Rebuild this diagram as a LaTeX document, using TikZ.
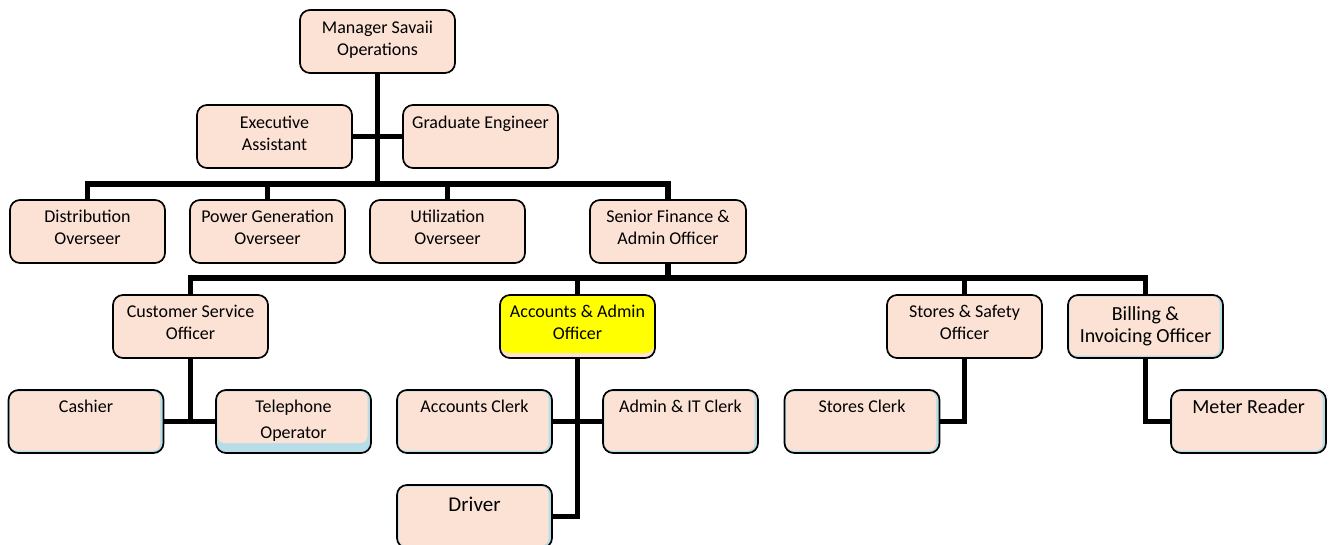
\documentclass[tikz,border=0pt]{standalone}
\usepackage{fontspec}
\setmainfont{Carlito}
\definecolor{peach}{RGB}{251,226,213}
\definecolor{paleblue}{RGB}{183,221,232}
\definecolor{hilite}{RGB}{255,255,0}
% top-aligned box text: #1 box height, #2 first-baseline offset, #3 text
\newcommand{\tb}[3]{\parbox[c][#1][t]{152pt}{\centering\rule{0pt}{#2}#3}}
\tikzset{
  box/.style={draw=black, line width=1.7pt, rounded corners=10pt, fill=peach,
    minimum width=155pt, minimum height=63pt, inner sep=0pt,
    font=\fontsize{18}{22}\selectfont},
  shadebox/.style={box, fill=paleblue,
    path picture={\fill[peach, rounded corners=7pt]
      ([xshift=1.5pt,yshift=-1.5pt]path picture bounding box.north west) rectangle
      ([xshift=-3.5pt,yshift=#1]path picture bounding box.south east);}},
  shadebox/.default=2.5pt,
  hibox/.style={box,
    path picture={\fill[hilite]
      (path picture bounding box.north west) rectangle
      ([yshift=5pt]path picture bounding box.south east);}},
  conn/.style={line width=5.5pt, draw=black},
}
\begin{document}
\begin{tikzpicture}[x=1pt,y=-1pt]
\useasboundingbox (0,0) rectangle (1334,544);

% level 0 and staff
\node[box] (mgr) at (377.5,41.5) {\tb{63pt}{23pt}{Manager Savaii\\Operations}};
\node[box] (ea) at (274.5,136.5) {\tb{63pt}{23pt}{Executive\\Assistant}};
\node[box] (ge) at (480.5,136.5) {\tb{63pt}{23pt}{Graduate Engineer}};

% level 1
\node[box] (dist) at (87.5,231.5) {\tb{63pt}{22pt}{Distribution\\Overseer}};
\node[box] (pg) at (267.5,231.5) {\tb{63pt}{22pt}{Power Generation\\Overseer}};
\node[box] (util) at (447.5,231.5) {\tb{63pt}{22pt}{Utilization\\Overseer}};
\node[box, minimum width=156pt] (sf) at (668,231.5) {\tb{63pt}{22pt}{Senior Finance \&\\Admin Officer}};

% level 2
\node[box] (cso) at (190.5,326.5) {\tb{63pt}{22pt}{Customer Service\\Officer}};
\node[hibox] (aao) at (577.5,326.5) {\tb{63pt}{22pt}{Accounts \& Admin\\Officer}};
\node[box] (sso) at (964.5,326.5) {\tb{63pt}{22pt}{Stores \& Safety\\Officer}};
\node[shadebox, font=\fontsize{20}{22}\selectfont] (bio) at (1145.5,326.5)
  {\tb{63pt}{25pt}{Billing \&\\Invoicing Officer}};

% level 3
\node[shadebox] (cash) at (86,421.5) {\tb{63pt}{22pt}{Cashier}};
\node[shadebox=10pt] (tel) at (293.5,421.5) {\tb{63pt}{22pt}{Telephone\\[4pt]Operator}};
\node[shadebox] (acc) at (474.5,421.5) {\tb{63pt}{22pt}{Accounts Clerk}};
\node[shadebox] (adm) at (680.5,421.5) {\tb{63pt}{22pt}{Admin \& IT Clerk}};
\node[shadebox, font=\fontsize{21}{24}\selectfont] (drv) at (474.5,516.5) {\tb{63pt}{26pt}{Driver}};
\node[shadebox] (sc) at (862,421.5) {\tb{63pt}{22pt}{Stores Clerk}};
\node[shadebox, font=\fontsize{20}{24}\selectfont] (mr) at (1248.5,421.5) {\tb{63pt}{23pt}{Meter Reader}};

% junction points on the buses
\coordinate (b1) at (377.5,184);
\coordinate (b2) at (668,278);

% connectors
\draw[conn] (mgr.south) -- (b1);
\draw[conn] (ea.east) -- (ge.west);
\draw[conn] (dist.north) |- (b1) -| (sf.north);
\draw[conn] (pg.north) -- (pg.north |- b1);
\draw[conn] (util.north) -- (util.north |- b1);

\draw[conn] (sf.south) -- (b2);
\draw[conn] (cso.north) |- (b2) -| (bio.north);
\draw[conn] (aao.north) -- (aao.north |- b2);
\draw[conn] (sso.north) -- (sso.north |- b2);

\draw[conn] (cso.south) -- (cso.south |- cash.east);
\draw[conn] (cash.east) -- (tel.west);
\draw[conn] (aao.south) |- (drv.east);
\draw[conn] (acc.east) -- (adm.west);
\draw[conn] (sso.south) |- (sc.east);
\draw[conn] (bio.south) |- (mr.west);
\end{tikzpicture}
\end{document}
